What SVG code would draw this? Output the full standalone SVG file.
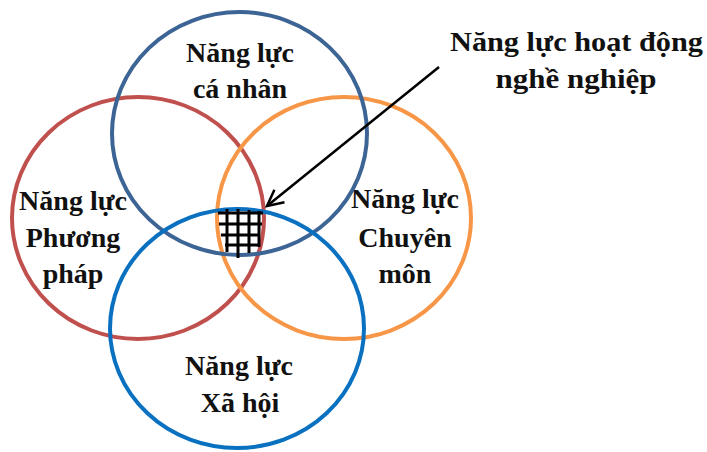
<svg xmlns="http://www.w3.org/2000/svg" width="707" height="452" viewBox="0 0 707 452">
  <defs>
    <style>
      .ring { fill: none; stroke-width: 4; }
      .lbl { font-family: 'Liberation Serif', 'DejaVu Serif', serif; font-weight: 700; font-size: 28px; fill: #111; text-anchor: middle; }
      .grid line { stroke: #000; stroke-width: 3; stroke-linecap: butt; }
      .conn { stroke: #000; stroke-width: 2.5; fill: none; }
    </style>
    <marker id="openHead" markerUnits="userSpaceOnUse" markerWidth="24" markerHeight="24" refX="0" refY="0" viewBox="-20 -12 24 24" orient="auto">
      <path d="M -16,-8 L 0,0 L -16,8" fill="none" stroke="#000" stroke-width="2.5"/>
    </marker>
  </defs>
  <rect width="707" height="452" fill="#fff"/>

  <!-- left: method competence -->
  <g id="phuong-phap">
    <ellipse class="ring" cx="138" cy="218" rx="126" ry="121" stroke="#C0504D"/>
    <text class="lbl" x="73" y="210">Năng lực</text>
    <text class="lbl" x="73" y="247">Phương</text>
    <text class="lbl" x="73" y="283">pháp</text>
  </g>

  <!-- right: professional competence -->
  <g id="chuyen-mon">
    <ellipse class="ring" cx="344" cy="218" rx="127" ry="121" stroke="#F79646"/>
    <text class="lbl" x="405" y="208">Năng lực</text>
    <text class="lbl" x="405" y="247">Chuyên</text>
    <text class="lbl" x="405" y="283">môn</text>
  </g>

  <!-- top: personal competence -->
  <g id="ca-nhan">
    <ellipse class="ring" cx="239.5" cy="133.5" rx="127.5" ry="121.5" stroke="#3C6494"/>
    <text class="lbl" x="240" y="62">Năng lực</text>
    <text class="lbl" x="240" y="98">cá nhân</text>
  </g>

  <!-- bottom: social competence -->
  <g id="xa-hoi">
    <ellipse class="ring" cx="237" cy="328.5" rx="127" ry="119.5" stroke="#0A70C0"/>
    <text class="lbl" x="239" y="375">Năng lực</text>
    <text class="lbl" x="240" y="412">Xã hội</text>
  </g>

  <!-- hatched overlap of all four rings -->
  <g id="giao-diem" class="grid">
    <line x1="218" y1="213" x2="263" y2="213"/>
    <line x1="219" y1="224" x2="262" y2="224"/>
    <line x1="221" y1="235" x2="260" y2="235"/>
    <line x1="225" y1="245" x2="258" y2="245"/>
    <line x1="227" y1="209" x2="227" y2="252"/>
    <line x1="238" y1="209" x2="238" y2="258"/>
    <line x1="249" y1="210" x2="249" y2="253"/>
    <line x1="259" y1="211" x2="259" y2="247"/>
  </g>

  <!-- callout label (set slightly wider than the ring labels) -->
  <g id="hoat-dong-nghe-nghiep">
    <text class="lbl" x="576.5" y="51" textLength="253" lengthAdjust="spacingAndGlyphs">Năng lực hoạt động</text>
    <text class="lbl" x="576" y="88" textLength="161" lengthAdjust="spacingAndGlyphs">nghề nghiệp</text>
  </g>

  <g id="connectors">
    <line class="conn" x1="439" y1="67" x2="267" y2="206" marker-end="url(#openHead)"/>
  </g>
</svg>
